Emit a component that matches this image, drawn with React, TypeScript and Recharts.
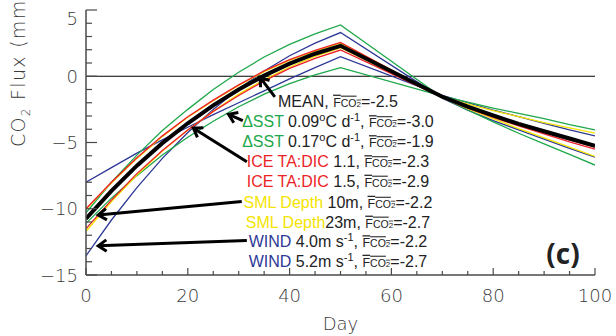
import React from 'react';
import { LineChart, Line, XAxis, YAxis, ReferenceLine, ReferenceDot, Customized } from 'recharts';

// ---------- data ----------
const days = [0, 5, 10, 15, 20, 25, 30, 35, 40, 45, 50, 70, 75, 80, 85, 90, 95, 100];
const meanFlux = [-10.75, -8.65, -6.75, -5.05, -3.55, -2.2, -1.0, 0.05, 0.95, 1.7, 2.3, -1.55, -2.3, -2.95, -3.6, -4.15, -4.7, -5.25];
const sstHigh = [-10.3, -8.0, -5.95, -4.1, -2.5, -1.0, 0.3, 1.45, 2.4, 3.2, 3.87, -1.6, -2.55, -3.45, -4.3, -5.1, -5.9, -6.7];
const sstLow = [-11.1, -9.2, -7.5, -5.95, -4.6, -3.4, -2.3, -1.35, -0.55, 0.1, 0.65, -1.5, -1.95, -2.4, -2.8, -3.2, -3.65, -4.05];
const iceLow = [-11.5, -9.35, -7.35, -5.6, -4.05, -2.65, -1.45, -0.35, 0.6, 1.35, 1.98, -1.6, -2.4, -3.1, -3.75, -4.35, -4.95, -5.5];
const iceHigh = [-10.0, -8.0, -6.15, -4.5, -3.05, -1.8, -0.65, 0.4, 1.25, 1.95, 2.55, -1.6, -2.35, -3.05, -3.7, -4.25, -4.8, -5.35];
const smlA = [-10.05, -8.05, -6.2, -4.55, -3.1, -1.85, -0.7, 0.35, 1.2, 1.9, 2.5, -1.55, -2.1, -2.6, -3.05, -3.5, -3.9, -4.3];
const smlB = [-11.7, -9.45, -7.45, -5.65, -4.05, -2.65, -1.35, -0.25, 0.7, 1.5, 2.15, -1.6, -2.45, -3.2, -3.95, -4.65, -5.35, -6.05];
const windSteep = [-13.55, -10.85, -8.4, -6.2, -4.25, -2.5, -0.95, 0.4, 1.55, 2.5, 3.3, -1.65, -2.55, -3.35, -4.05, -4.75, -5.45, -6.1];
const windFlat = [-8.0, -6.9, -5.8, -4.8, -3.85, -2.9, -2.0, -1.1, -0.2, 0.65, 1.48, -1.45, -2.0, -2.55, -3.05, -3.55, -4.05, -4.5];

const xTicks = [0, 5, 10, 15, 20, 25, 30, 35, 40, 45, 50, 55, 60, 65, 70, 75, 80, 85, 90, 95, 100];
const yTicks = [-15, -14, -13, -12, -11, -10, -9, -8, -7, -6, -5, -4, -3, -2, -1, 0, 1, 2, 3, 4, 5];

// annotation rows
const rowPrefix = ['MEAN', 'ΔSST', 'ΔSST', 'ICE TA:DIC', 'ICE TA:DIC', 'SML Depth', 'SML Depth', 'WIND', 'WIND'];
const rowKind = ['mean', 'sst', 'sst', 'ice', 'ice', 'sml', 'sml', 'wind', 'wind'];
const rowDetail: (string | string[])[][] = [
  [', '],
  [' 0.09', ['o'], 'C d', ['-1'], ', '],
  [' 0.17', ['o'], 'C d', ['-1'], ', '],
  [' 1.1, '],
  [' 1.5, '],
  [' 10m, '],
  ['23m, '],
  [' 4.0m s', ['-1'], ', '],
  [' 5.2m s', ['-1'], ', '],
];
const rowFluxMean = ['-2.5', '-3.0', '-1.9', '-2.3', '-2.9', '-2.2', '-2.7', '-2.2', '-2.7'];
const rowDay = 49.5;
const rowFlux = [-1.86, -3.41, -4.92, -6.43, -7.9, -9.49, -10.99, -12.47, -13.94];

// arrows (day, flux) start -> tip
const arrowStartDay = [37.1, 30.8, 31.6, 30.6, 31.6];
const arrowStartFlux = [-1.55, -3.35, -6.45, -9.46, -12.4];
const arrowTipDay = [34.2, 28.0, 21.1, 2.4, 2.4];
const arrowTipFlux = [-0.08, -2.87, -3.92, -10.47, -12.8];

// ---------- styles ----------
const COLORS: Record<string, string> = {
  mean: '#000000',
  sst: '#1ea84b',
  ice: '#ec1f26',
  sml: '#f4e400',
  wind: '#2d3896',
};
const TEXT_COLORS: Record<string, string> = {
  mean: '#222222',
  sst: '#1ea84b',
  ice: '#ec1f26',
  sml: '#f4e400',
  wind: '#2d3896',
};
const AXIS = '#4a4a4a';
const TICK_FONT = "'DejaVu Sans', sans-serif";
const ANN_FONT = "'Liberation Sans', Arial, sans-serif";

const data = days.map((d, i) => ({
  day: d,
  mean: meanFlux[i],
  sstHigh: sstHigh[i],
  sstLow: sstLow[i],
  iceLow: iceLow[i],
  iceHigh: iceHigh[i],
  smlA: smlA[i],
  smlB: smlB[i],
  windSteep: windSteep[i],
  windFlat: windFlat[i],
}));

const series = [
  { key: 'windSteep', kind: 'wind' },
  { key: 'windFlat', kind: 'wind' },
  { key: 'sstHigh', kind: 'sst' },
  { key: 'sstLow', kind: 'sst' },
  { key: 'smlA', kind: 'sml' },
  { key: 'smlB', kind: 'sml' },
  { key: 'iceLow', kind: 'ice' },
  { key: 'iceHigh', kind: 'ice' },
];

// ---------- tick renderers ----------
const BottomTick = (p: any) => {
  const v = p.payload.value;
  const major = v % 20 === 0;
  return (
    <g>
      <line x1={p.x} x2={p.x} y1={p.y} y2={p.y - (major ? 7 : 4)} stroke={AXIS} strokeWidth={1.2} />
      {major && (
        <text x={p.x} y={p.y + 27} textAnchor="middle" fontFamily={TICK_FONT} fontWeight={200} fontSize={18} fill="#3a3a3a">
          {v}
        </text>
      )}
    </g>
  );
};
const TopTick = (p: any) => {
  const v = p.payload.value;
  const major = v % 20 === 0;
  return <line x1={p.x} x2={p.x} y1={p.y} y2={p.y + (major ? 7 : 4)} stroke={AXIS} strokeWidth={1.2} />;
};
const LeftTick = (p: any) => {
  const v = p.payload.value;
  const major = v % 5 === 0;
  const label = v < 0 ? `\u2212${Math.abs(v)}` : `${v}`;
  return (
    <g>
      <line x1={p.x} x2={p.x + (major ? 11 : 6)} y1={p.y} y2={p.y} stroke={AXIS} strokeWidth={1.2} />
      {major && (
        <text x={p.x - 8} y={p.y + 6.5 + (v === 5 ? 8 : 0)} textAnchor="end" fontFamily={TICK_FONT} fontWeight={200} fontSize={18} fill="#3a3a3a">
          {label}
        </text>
      )}
    </g>
  );
};
const RightTick = (p: any) => {
  const v = p.payload.value;
  const major = v % 5 === 0;
  return <line x1={p.x} x2={p.x - (major ? 11 : 6)} y1={p.y} y2={p.y} stroke={AXIS} strokeWidth={1.2} />;
};

// ---------- annotations ----------
const ArrowShape = (p: any) => {
  const { x1, y1, x2, y2 } = p;
  if ([x1, y1, x2, y2].some((v) => typeof v !== 'number' || isNaN(v))) return <g />;
  const ang = Math.atan2(y1 - y2, x1 - x2);
  const len = 10;
  const spread = 0.6;
  const ax = x2 + len * Math.cos(ang + spread);
  const ay = y2 + len * Math.sin(ang + spread);
  const bx = x2 + len * Math.cos(ang - spread);
  const by = y2 + len * Math.sin(ang - spread);
  return (
    <g>
      <line x1={x1} y1={y1} x2={x2} y2={y2} stroke="#000" strokeWidth={3} />
      <polyline points={`${ax},${ay} ${x2},${y2} ${bx},${by}`} fill="none" stroke="#000" strokeWidth={3} strokeLinejoin="miter" />
    </g>
  );
};

const SUP = 6;

const renderRow = (i: number) => (p: any) => {
  const cx = p.cx;
  const cy = p.cy;
  if (typeof cx !== 'number' || typeof cy !== 'number') return <g />;
  const parts: React.ReactNode[] = [];
  let raised = false;
  rowDetail[i].forEach((seg, j) => {
    if (Array.isArray(seg)) {
      parts.push(
        <tspan key={`s${j}`} dy={-SUP} fontSize={11}>
          {seg[0]}
        </tspan>
      );
      raised = true;
    } else {
      parts.push(
        <tspan key={`t${j}`} dy={raised ? SUP : undefined} fontSize={16}>
          {seg}
        </tspan>
      );
      raised = false;
    }
  });
  return (
    <text x={cx} y={cy} dy="0.36em" textAnchor="middle" fontFamily={ANN_FONT} fontSize={16} fill="#222">
      <tspan fill={TEXT_COLORS[rowKind[i]]}>{rowPrefix[i]}</tspan>
      {parts}
      <tspan fontSize={12.5} style={{ textDecoration: 'overline' }}>
        F<tspan fontSize={10.5}>CO</tspan>
        <tspan fontSize={8}>2</tspan>
      </tspan>
      <tspan fontSize={16}>={rowFluxMean[i]}</tspan>
    </text>
  );
};

const Titles = () => (
  <g>
    <text
      transform="translate(25,147) rotate(-90)"
      textAnchor="start"
      fontFamily={TICK_FONT}
      fontWeight={200}
      fontSize={19}
      fill="#3a3a3a"
      letterSpacing={1.3}
    >
      CO<tspan dy={5} fontSize={12}>2</tspan>
      <tspan dy={-5}> Flux (mmol m</tspan>
      <tspan dy={-6} fontSize={12}>-2</tspan>
      <tspan dy={6}> d</tspan>
      <tspan dy={-6} fontSize={12}>-1</tspan>
      <tspan dy={6}>)</tspan>
    </text>
    <text x={340.5} y={330} textAnchor="middle" fontFamily={TICK_FONT} fontWeight={200} fontSize={18} fill="#3a3a3a">
      Day
    </text>
    <text x={563} y={264} textAnchor="middle" fontFamily="'Open Sans', 'DejaVu Sans', sans-serif" fontWeight={700} fontSize={28} fill="#222">
      (c)
    </text>
  </g>
);

export default function App() {
  return (
    <div style={{ position: 'absolute', left: 0, top: 0, width: 616, height: 336, background: '#fff' }}>
      <LineChart width={616} height={336} data={data} margin={{ top: 10, right: 21, bottom: 0, left: 0 }}>
        <XAxis
          xAxisId="b"
          dataKey="day"
          type="number"
          domain={[0, 100]}
          ticks={xTicks}
          interval={0}
          height={61}
          tickSize={0}
          tickMargin={0}
          tickLine={false}
          axisLine={{ stroke: AXIS, strokeWidth: 1.5 }}
          tick={BottomTick}
          allowDataOverflow
        />
        <XAxis
          xAxisId="t"
          orientation="top"
          dataKey="day"
          type="number"
          domain={[0, 100]}
          ticks={xTicks}
          interval={0}
          height={0}
          tickSize={0}
          tickMargin={0}
          tickLine={false}
          axisLine={{ stroke: AXIS, strokeWidth: 1.5 }}
          tick={TopTick}
          allowDataOverflow
        />
        <YAxis
          yAxisId="l"
          type="number"
          domain={[-15, 5]}
          ticks={yTicks}
          interval={0}
          width={86}
          tickSize={0}
          tickMargin={0}
          tickLine={false}
          axisLine={{ stroke: AXIS, strokeWidth: 1.5 }}
          tick={LeftTick}
          allowDataOverflow
        />
        <YAxis
          yAxisId="r"
          orientation="right"
          type="number"
          domain={[-15, 5]}
          ticks={yTicks}
          interval={0}
          width={0}
          tickSize={0}
          tickMargin={0}
          tickLine={false}
          axisLine={{ stroke: AXIS, strokeWidth: 1.5 }}
          tick={RightTick}
          allowDataOverflow
        />
        <ReferenceLine xAxisId="b" yAxisId="l" y={0} stroke="#000" strokeWidth={1.2} />
        {series.map((s) => (
          <Line
            key={s.key}
            xAxisId="b"
            yAxisId="l"
            dataKey={s.key}
            type="linear"
            stroke={COLORS[s.kind]}
            strokeWidth={1.3}
            dot={false}
            activeDot={false}
            isAnimationActive={false}
          />
        ))}
        <Line
          xAxisId="b"
          yAxisId="l"
          dataKey="mean"
          type="linear"
          stroke={COLORS.mean}
          strokeWidth={4}
          dot={false}
          activeDot={false}
          isAnimationActive={false}
        />
        {arrowTipDay.map((td, i) => (
          <ReferenceLine
            key={`a${i}`}
            xAxisId="b"
            yAxisId="l"
            segment={[
              { x: arrowStartDay[i], y: arrowStartFlux[i] },
              { x: td, y: arrowTipFlux[i] },
            ]}
            shape={ArrowShape}
            ifOverflow="visible"
          />
        ))}
        {rowFlux.map((f, i) => (
          <ReferenceDot key={`r${i}`} xAxisId="b" yAxisId="l" x={rowDay} y={f} r={0} shape={renderRow(i)} ifOverflow="visible" />
        ))}
        <Customized component={Titles} />
      </LineChart>
    </div>
  );
}
